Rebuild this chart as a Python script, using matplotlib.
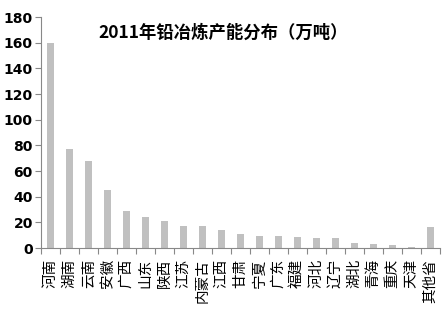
import numpy as np
import matplotlib.pyplot as plt

plt.rcParams['font.family'] = ['Noto Sans CJK SC', 'DejaVu Sans']

provinces = ["河南", "湖南", "云南", "安徽", "广西", "山东", "陕西", "江苏", "内蒙古",
             "江西", "甘肃", "宁夏", "广东", "福建", "河北", "辽宁", "湖北", "青海",
             "重庆", "天津", "其他省"]
capacity = [160, 77, 67.6, 45, 29, 24.5, 21.3, 17.2, 17.2, 14, 10.7, 9.6, 9.6,
            8.5, 7.6, 7.6, 4.2, 2.9, 2.1, 1.0, 16.2]
yticks = [0, 20, 40, 60, 80, 100, 120, 140, 160, 180]

fig = plt.figure(figsize=(4.47, 3.29), dpi=100)
ax = fig.add_axes([0.092, 0.246, 0.892, 0.702])

x = np.arange(len(provinces))
ax.bar(x, capacity, width=0.37, color="#c0c0c0")

ax.set_xlim(-0.5, len(provinces) - 0.5)
ax.set_ylim(0, 180)
ax.set_yticks(yticks)
ax.set_yticklabels([str(v) for v in yticks], fontsize=10, fontweight="bold",
                   family=["DejaVu Sans"])

# category labels, ticks sit between bars (Excel style)
ax.set_xticks(np.arange(len(provinces) + 1) - 0.5)
ax.set_xticklabels([])
ax.set_xticks(x, minor=True)
ax.set_xticklabels(provinces, minor=True, rotation=90, fontsize=10.5, va="top")
ax.tick_params(axis="x", which="minor", length=0, pad=8)
ax.tick_params(axis="x", which="major", length=4, color="#888888")
ax.tick_params(axis="y", length=4, color="#888888", pad=2)

for s in ["top", "right"]:
    ax.spines[s].set_visible(False)
for s in ["left", "bottom"]:
    ax.spines[s].set_color("#888888")

fig.text(0.50, 0.9, "2011年铅冶炼产能分布（万吨）", ha="center", va="center",
         fontsize=12.5, fontweight="bold")

fig.savefig("out.png", dpi=100)
